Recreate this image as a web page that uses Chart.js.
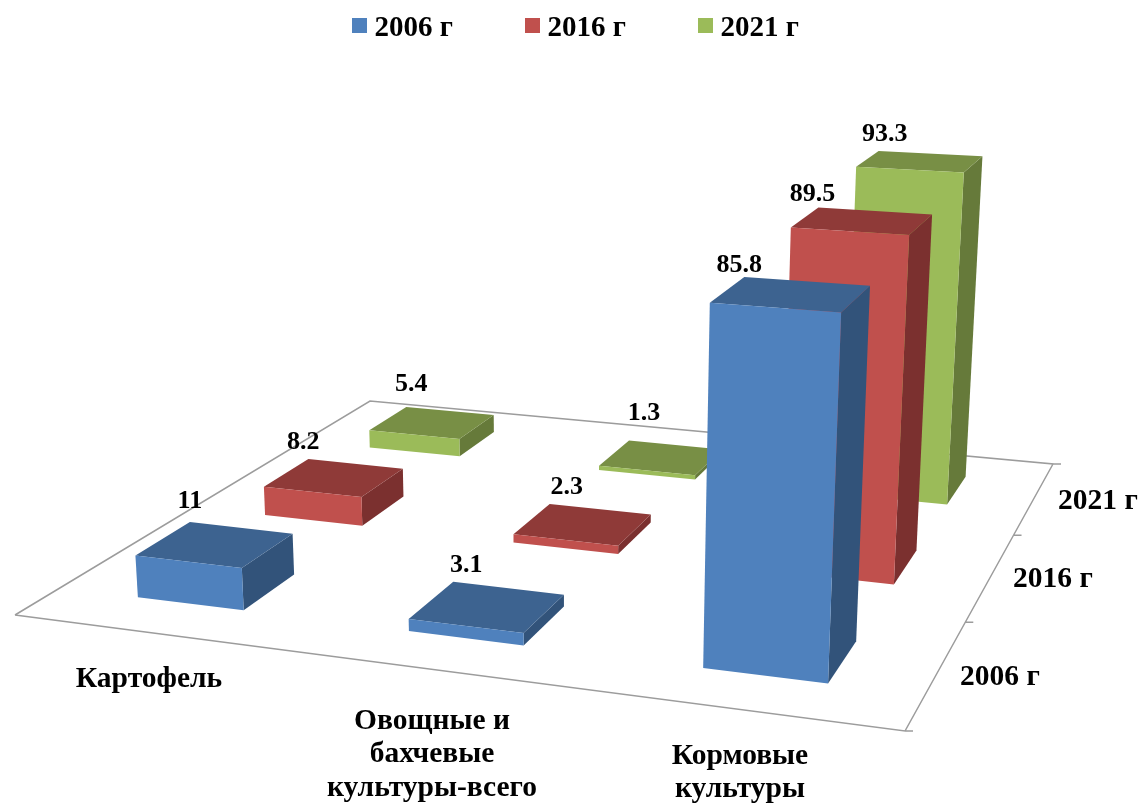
<!DOCTYPE html>
<html lang="ru">
<head>
<meta charset="utf-8">
<title>3D chart</title>
<style>html,body{margin:0;padding:0;background:#fff}canvas{display:block}</style>
<script src="https://cdn.jsdelivr.net/npm/chart.js@4"></script>
</head>
<body>
<canvas id="c" width="1143" height="806"></canvas>
<script>
const categories = ['Картофель', 'Овощные и бахчевые культуры-всего', 'Кормовые культуры'];
const seriesNames = ['2006 г', '2016 г', '2021 г'];
const values2006 = [11, 3.1, 85.8];
const values2016 = [8.2, 2.3, 89.5];
const values2021 = [5.4, 1.3, 93.3];
const seriesValues = [values2006, values2016, values2021];

const frontColors = ['#4f81bd', '#c0504d', '#9bbb59'];
const topColors = ['#3d6390', '#8f3a38', '#788f45'];
const sideColors = ['#32537a', '#7b302f', '#667a3a'];

// floor plane of the perspective view: corners front-left, front-right, back-right, back-left
const floor = [[15, 615], [905, 731], [1053, 464], [370, 401]];
const vanish = [570, 8000];     // vanishing point of the vertical edges
const heightFactor = -0.052;    // full value-axis height in homogeneous units
const barShare = 0.4;           // share of a cell occupied by a bar
const valueFont = 'bold 26px "Liberation Serif"';
const axisFont = 'bold 29.5px "Liberation Serif"';
// label offsets from the top back-left corner of each bar, by series then category
const valueLabelOffsets = [
  [[0, -21], [13, -16], [-5, -12]],
  [[-5, -17], [17, -17], [-6, -13]],
  [[5, -23], [15, -27], [6, -17]]
];
const categoryLines = [['Картофель'], ['Овощные и', 'бахчевые', 'культуры-всего'], ['Кормовые', 'культуры']];
const categoryAnchors = [[149, 679], [432, 721], [740, 756]];
const seriesAnchors = [[1000, 677], [1053, 579], [1098, 501]];
const categoryLineStep = 33.5;

function homography(q) {
  const [[x0, y0], [x1, y1], [x2, y2], [x3, y3]] = q;
  const dx1 = x1 - x2, dx2 = x3 - x2, sx = x0 - x1 + x2 - x3;
  const dy1 = y1 - y2, dy2 = y3 - y2, sy = y0 - y1 + y2 - y3;
  const den = dx1 * dy2 - dx2 * dy1;
  const g = (sx * dy2 - dx2 * sy) / den, h = (dx1 * sy - sx * dy1) / den;
  return { a: x1 - x0 + g * x1, b: x3 - x0 + h * x3, c: x0, d: y1 - y0 + g * y1, e: y3 - y0 + h * y3, f: y0, g, h };
}
const H = homography(floor);
function project(u, v, t) {
  const s = heightFactor * t;
  const X = H.a * u + H.b * v + H.c + s * vanish[0];
  const Y = H.d * u + H.e * v + H.f + s * vanish[1];
  const W = H.g * u + H.h * v + 1 + s;
  return [X / W, Y / W];
}
function poly(ctx, pts, fill) {
  ctx.beginPath();
  pts.forEach((p, i) => i ? ctx.lineTo(p[0], p[1]) : ctx.moveTo(p[0], p[1]));
  ctx.closePath();
  ctx.fillStyle = fill;
  ctx.fill();
}
function swatch(color) {
  const c = document.createElement('canvas');
  c.width = 15; c.height = 21;
  const g = c.getContext('2d');
  g.fillStyle = color;
  g.fillRect(0, 0, 15, 15);
  return c;
}

const perspectiveBars = {
  id: 'perspectiveBars',
  afterLayout(chart) {
    chart.legend.top = -65;
    chart.legend.left += 7.5;
    chart.legend.right += 7.5;
  },
  beforeDatasetDraw() { return false; },
  beforeDatasetsDraw(chart) {
    const ctx = chart.ctx, sx = chart.scales.x, sy = chart.scales.y, sz = chart.scales.z;
    const half = barShare / 2 / categories.length;
    const halfZ = barShare / 2 / seriesNames.length;
    ctx.save();
    ctx.strokeStyle = '#9c9c9c';
    ctx.lineWidth = 1.5;
    ctx.beginPath();
    [[0, 0], [1, 0], [1, 1], [0, 1], [0, 0]].forEach((c, i) => {
      const p = project(c[0], c[1], 0);
      i ? ctx.lineTo(p[0], p[1]) : ctx.moveTo(p[0], p[1]);
    });
    for (let j = 0; j <= seriesNames.length; j++) {
      const p = project(1, j / seriesNames.length, 0);
      ctx.moveTo(p[0], p[1]);
      ctx.lineTo(p[0] + 8, p[1]);
    }
    ctx.stroke();

    const labels = [];
    for (let j = seriesNames.length - 1; j >= 0; j--) {
      const vc = (sz.getPixelForValue(j) - sz.left) / sz.width;
      categories.forEach((_, i) => {
        const value = seriesValues[j][i];
        const uc = (sx.getPixelForValue(i) - sx.left) / sx.width;
        const t = (sy.bottom - sy.getPixelForValue(value)) / sy.height;
        const u0 = uc - half, u1 = uc + half, v0 = vc - halfZ, v1 = vc + halfZ;
        const a = project(u0, v0, 0), b = project(u1, v0, 0), c = project(u1, v1, 0);
        const A = project(u0, v0, t), B = project(u1, v0, t), C = project(u1, v1, t), D = project(u0, v1, t);
        poly(ctx, [b, c, C, B], sideColors[j]);
        poly(ctx, [A, B, C, D], topColors[j]);
        poly(ctx, [a, b, B, A], frontColors[j]);
        const off = valueLabelOffsets[j][i];
        labels.push([String(value), D[0] + off[0], D[1] + off[1]]);
      });
    }
    ctx.fillStyle = '#000';
    ctx.textAlign = 'center';
    ctx.textBaseline = 'middle';
    ctx.font = valueFont;
    labels.forEach(l => ctx.fillText(l[0], l[1], l[2]));
    ctx.font = axisFont;
    categoryLines.forEach((lines, i) => lines.forEach((line, n) =>
      ctx.fillText(line, categoryAnchors[i][0], categoryAnchors[i][1] + n * categoryLineStep)));
    seriesNames.forEach((name, j) => ctx.fillText(name, seriesAnchors[j][0], seriesAnchors[j][1]));
    ctx.restore();
  }
};

new Chart(document.getElementById('c'), {
  type: 'bar',
  data: {
    labels: categories,
    datasets: seriesNames.map((name, j) => ({ label: name, data: seriesValues[j], backgroundColor: frontColors[j] }))
  },
  options: {
    responsive: false,
    animation: false,
    layout: { padding: 0 },
    plugins: {
      tooltip: { enabled: false },
      legend: {
        display: true,
        position: 'top',
        labels: {
          usePointStyle: true,
          pointStyleWidth: 1,
          padding: 79,
          color: '#000',
          font: { family: '"Liberation Serif"', size: 29, weight: 'bold' },
          generateLabels: () => seriesNames.map((name, j) => ({
            text: name, datasetIndex: j, fontColor: '#000', pointStyle: swatch(frontColors[j]), lineWidth: 0
          }))
        }
      }
    },
    scales: {
      x: { type: 'category', offset: true, display: false },
      y: { type: 'linear', min: 0, max: 100, display: false },
      z: { type: 'category', axis: 'x', labels: seriesNames, offset: true, display: false }
    }
  },
  plugins: [perspectiveBars]
});
</script>
</body>
</html>
